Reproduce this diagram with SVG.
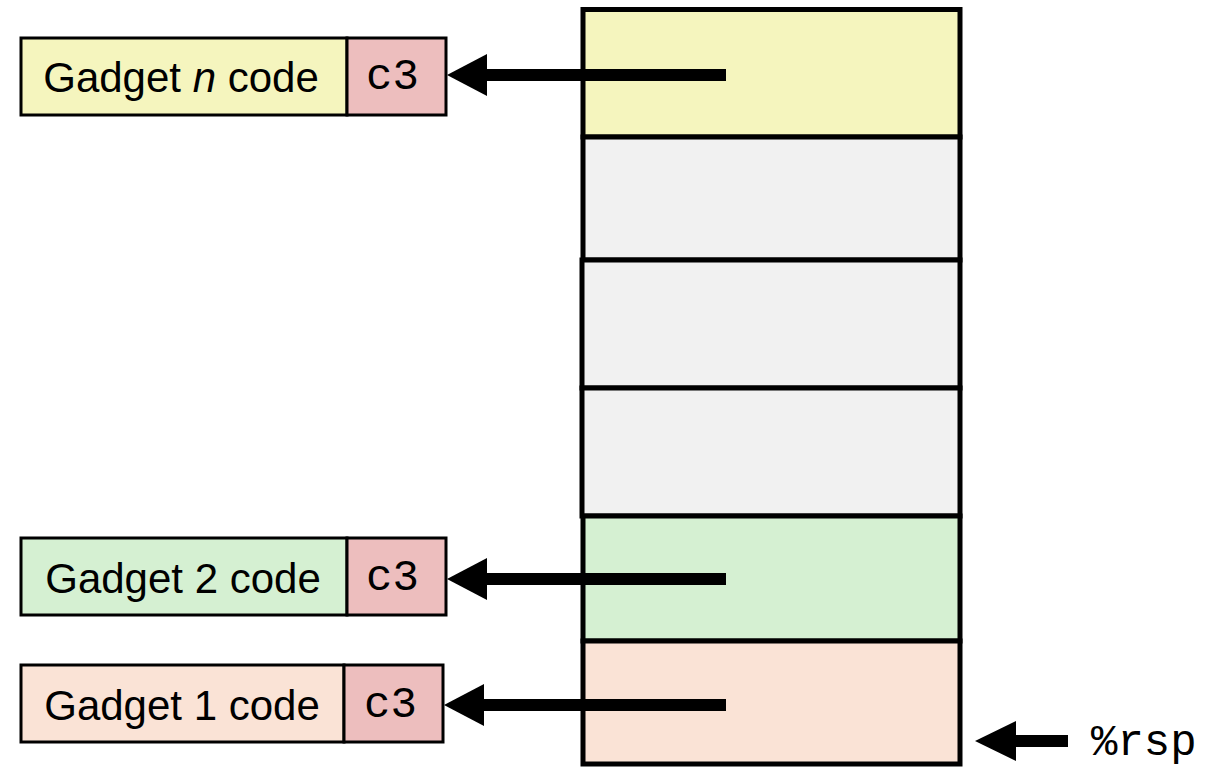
<svg xmlns="http://www.w3.org/2000/svg" width="1223" height="767" viewBox="0 0 1223 767">
<defs>
<style>
.cell{stroke:#000;stroke-width:5}
.box{stroke:#000;stroke-width:3}
.lbl{font-family:"Liberation Sans",Arial,sans-serif;font-size:42px;fill:#000;text-anchor:middle}
.mono{font-family:"Liberation Mono","Courier New",monospace;font-size:44px;fill:#000}
.shaft{stroke:#000;stroke-width:12;fill:none}
.head{fill:#000}
</style>
</defs>
<rect width="1223" height="767" fill="#fff"/>
<g id="stack">
<rect id="cell-n" class="cell" x="583" y="9.5" width="377" height="127.5" fill="#F5F5BE"/>
<rect id="cell-e1" class="cell" x="583" y="137" width="377" height="123" fill="#F1F1F1"/>
<rect id="cell-e2" class="cell" x="582" y="260" width="378" height="128" fill="#F1F1F1"/>
<rect id="cell-e3" class="cell" x="582" y="388" width="378" height="128" fill="#F1F1F1"/>
<rect id="cell-2" class="cell" x="583" y="516" width="377" height="125" fill="#D5F0D2"/>
<rect id="cell-1" class="cell" x="583" y="641" width="377" height="123" fill="#FAE3D6"/>
</g>
<g id="gadget-n">
<rect class="box" x="21" y="38" width="326" height="77" fill="#F5F5BE"/>
<rect class="box" x="347" y="38" width="99" height="77" fill="#EDBEBE"/>
<text class="lbl" x="181" y="92">Gadget <tspan font-style="italic">n</tspan> code</text>
<text class="mono" x="366" y="89">c3</text>
</g>
<g id="gadget-2">
<rect class="box" x="21" y="538" width="326" height="77" fill="#D5F0D2"/>
<rect class="box" x="347" y="538" width="99" height="77" fill="#EDBEBE"/>
<text class="lbl" x="183" y="593">Gadget 2 code</text>
<text class="mono" x="366" y="590">c3</text>
</g>
<g id="gadget-1">
<rect class="box" x="21" y="665" width="323" height="77" fill="#FAE3D6"/>
<rect class="box" x="344" y="665" width="99" height="77" fill="#EDBEBE"/>
<text class="lbl" x="182" y="720">Gadget 1 code</text>
<text class="mono" x="364" y="717">c3</text>
</g>
<g id="rsp">
<text class="mono" x="1091" y="755" font-size="46">%rsp</text>
</g>
<g id="connectors">
<line class="shaft" x1="726" y1="75" x2="484" y2="75"/>
<polygon class="head" points="447,75 487,54 487,96"/>
<line class="shaft" x1="726" y1="579" x2="484" y2="579"/>
<polygon class="head" points="447,579 487,558 487,600"/>
<line class="shaft" x1="726" y1="705" x2="482" y2="705"/>
<polygon class="head" points="444,705 484,684 484,726"/>
<line class="shaft" x1="1068" y1="741" x2="1012" y2="741"/>
<polygon class="head" points="975,741 1016,721 1016,761"/>
</g>
</svg>
